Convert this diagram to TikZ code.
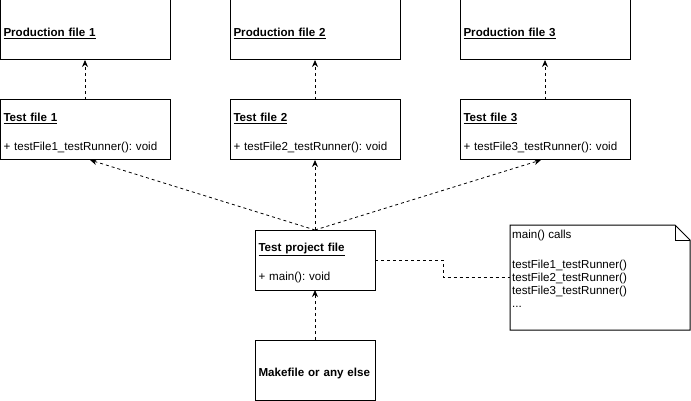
\documentclass[tikz,border=0pt]{standalone}
\usepackage{fontspec}
\setmainfont{Liberation Sans}
\usetikzlibrary{arrows.meta,calc}
\frenchspacing
\newcommand{\toprule}{\rule{0pt}{15pt}}
\begin{document}
\begin{tikzpicture}[x=1pt,y=-1pt,
  box/.style={draw,line width=1pt,anchor=north west,outer sep=0pt,inner sep=3.5pt,
    text width=163pt,minimum height=60pt,align=left,font=\fontsize{11.6}{14}\selectfont},
  smallbox/.style={box,text width=113pt},
  dep/.style={-{Stealth[length=7pt,width=6pt]},line width=0.8pt,dash pattern=on 3pt off 3pt},
  link/.style={line width=0.8pt,dash pattern=on 3pt off 3pt}]
\useasboundingbox (0,0) rectangle (691,401);
% production files
\node[box] (p1) at (0,0) {\toprule\underline{\textbf{Production file 1}}};
\node[box] (p2) at (230,0) {\toprule\underline{\textbf{Production file 2}}};
\node[box] (p3) at (460,0) {\toprule\underline{\textbf{Production file 3}}};
% test files
\node[box] (t1) at (0,100) {\toprule\underline{\textbf{Test file 1}}\\[15pt]+ testFile1\_testRunner(): void};
\node[box] (t2) at (230,100) {\toprule\underline{\textbf{Test file 2}}\\[15pt]+ testFile2\_testRunner(): void};
\node[box] (t3) at (460,100) {\toprule\underline{\textbf{Test file 3}}\\[15pt]+ testFile3\_testRunner(): void};
% test project and makefile
\node[smallbox] (tp) at (255,230) {\toprule\underline{\textbf{Test project file}}\\[15pt]+ main(): void};
\node[smallbox] (make) at (255,340) {\toprule\textbf{Makefile or any else}};
% note
\node[anchor=north west,outer sep=0pt,minimum width=180pt,minimum height=105pt] (note) at (510,225) {};
\draw[line width=1pt] (note.north west) -- ($(note.north east)+(-15,0)$) -- ($(note.north east)+(0,15)$)
  -- (note.south east) -- (note.south west) -- cycle;
\draw[line width=1pt] ($(note.north east)+(-15,0)$) -- ($(note.north east)+(-15,15)$) -- ($(note.north east)+(0,15)$);
\node[anchor=north west,align=left,inner sep=2pt,yshift=-3pt,font=\fontsize{11.6}{13}\selectfont] (notetext) at (note.north west)
  {main() calls\\[17pt]testFile1\_testRunner()\\testFile2\_testRunner()\\testFile3\_testRunner()\\...};
% arrows
\draw[dep] (t1) -- (p1);
\draw[dep] (t2) -- (p2);
\draw[dep] (t3) -- (p3);
\draw[dep] (tp.north) -- ($(t1.south)+(5,0)$);
\draw[dep] (tp.north) -- (t2.south);
\draw[dep] (tp.north) -- ($(t3.south)+(-4,0)$);
\draw[dep] (make) -- (tp);
\draw[link] (tp.east) -- ++(68,0) |- (note.west);
\end{tikzpicture}
\end{document}
